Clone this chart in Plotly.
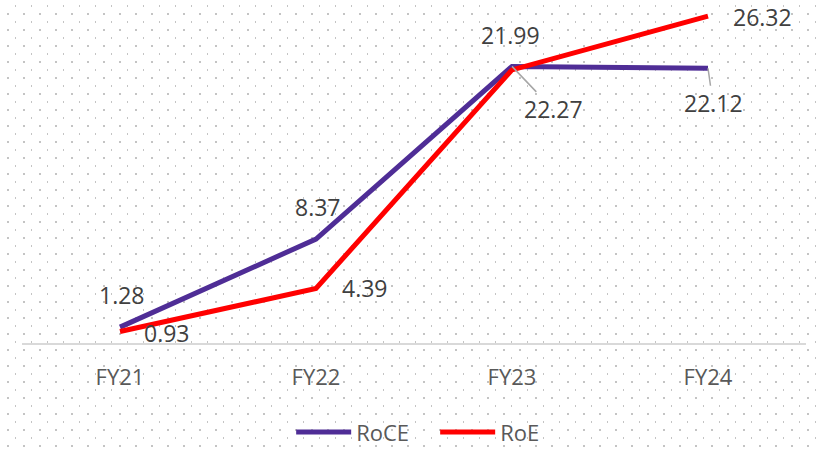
import base64
import plotly.graph_objects as go

categories = ["FY21", "FY22", "FY23", "FY24"]
roce = [1.28, 8.37, 22.27, 22.12]
roe = [0.93, 4.39, 21.99, 26.32]

PURPLE = "#4F2D96"
RED = "#FF0000"
FONT = "Open Sans"

W, H = 816, 449
L, R, T, B = 22, 10, 10, 106

svg = (
    f'<svg xmlns="http://www.w3.org/2000/svg" width="{W}" height="{H}">'
    '<defs><pattern id="p" width="16" height="16" patternUnits="userSpaceOnUse">'
    '<rect x="15" y="5" width="2" height="2" fill="#C4C4C4"/>'
    '<rect x="7" y="13" width="2" height="2" fill="#C4C4C4"/>'
    '</pattern></defs>'
    f'<rect width="{W}" height="{H}" fill="white"/>'
    f'<rect width="{W}" height="{H}" fill="url(#p)"/></svg>'
)
img_src = "data:image/svg+xml;base64," + base64.b64encode(svg.encode()).decode()

fig = go.Figure()
fig.add_trace(go.Scatter(x=categories, y=roce, mode="lines", name="RoCE",
                         line=dict(color=PURPLE, width=5)))
fig.add_trace(go.Scatter(x=categories, y=roe, mode="lines", name="RoE",
                         line=dict(color=RED, width=5)))

label_font = dict(family=FONT, size=23, color="#404040")

# (index, xshift, yshift, leader)
roce_pos = [(0, 2, 32, None), (1, 2, 32, None), (2, None, None, (41, 43)), (3, None, None, (5, 35))]
roe_pos = [(0, 47, -2, None), (1, 49, 0, None), (2, -2, 35, None), (3, 54, -1, None)]

for series, pos in ((roce, roce_pos), (roe, roe_pos)):
    for i, xs, ys, lead in pos:
        if lead is None:
            fig.add_annotation(x=categories[i], y=series[i], text=f"{series[i]:.2f}",
                               showarrow=False, xshift=xs, yshift=ys, font=label_font)
        else:
            fig.add_annotation(x=categories[i], y=series[i], text=f"{series[i]:.2f}",
                               showarrow=True, arrowhead=0, arrowwidth=1.5,
                               arrowcolor="#A6A6A6", ax=lead[0], ay=lead[1],
                               standoff=0, font=label_font)

plot_w = W - L - R
plot_h = H - T - B
fig.add_layout_image(dict(source=img_src, xref="paper", yref="paper",
                          x=-L / plot_w, y=1 + T / plot_h,
                          sizex=W / plot_w, sizey=H / plot_h,
                          sizing="stretch", layer="below", xanchor="left", yanchor="top"))

fig.update_layout(
    width=W, height=H,
    margin=dict(l=L, r=R, t=T, b=B, autoexpand=False),
    paper_bgcolor="white",
    plot_bgcolor="rgba(0,0,0,0)",
    font=dict(family=FONT, size=22, color="#595959"),
    showlegend=True,
    legend=dict(orientation="h", x=0.527, xanchor="center", y=-0.268, yanchor="middle",
                font=dict(family=FONT, size=22, color="#595959"),
                itemwidth=55, entrywidth=74, bgcolor="rgba(0,0,0,0)"),
    xaxis=dict(range=[-0.5, 3.5], showgrid=False, zeroline=False, showline=True,
               linecolor="#D9D9D9", linewidth=1.5, ticks="", ticklabelstandoff=14,
               tickfont=dict(family=FONT, size=22, color="#595959")),
    yaxis=dict(range=[0, 26.81], showgrid=False, zeroline=False, showticklabels=False,
               showline=False),
)

fig.write_html("out.html", config={"displayModeBar": False},
               post_script="document.body.style.margin='0';document.body.style.overflow='hidden';")
